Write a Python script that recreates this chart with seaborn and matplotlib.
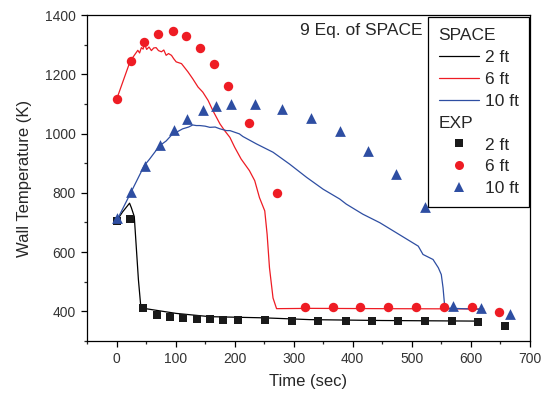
import numpy as np
import pandas as pd
import matplotlib
matplotlib.use('Agg')
import matplotlib.pyplot as plt
import seaborn as sns
from matplotlib.lines import Line2D
from matplotlib.ticker import MultipleLocator

# SPACE code results
space_2ft_t = [0, 10, 22, 25, 30, 37, 41, 46, 101, 158, 250, 327, 450, 613]
space_2ft_T = [705, 735, 765, 750, 720, 507, 417, 410, 393, 382, 378, 372, 369, 367]

space_6ft_t = [0, 23, 30, 36, 39, 42, 45, 47, 51, 55, 59, 63, 67, 71, 76, 80, 84, 88, 93, 97, 101,
               110, 121, 129, 138, 146, 155, 163, 175, 183, 192, 200, 211, 225, 234, 242, 251,
               255, 259, 265, 271, 330, 450, 622]
space_6ft_T = [1115, 1244, 1264, 1281, 1272, 1290, 1285, 1304, 1284, 1292, 1280, 1289, 1290, 1280,
               1276, 1282, 1264, 1270, 1264, 1252, 1242, 1236, 1208, 1185, 1157, 1140, 1112, 1078,
               1033, 1010, 987, 954, 914, 875, 841, 784, 739, 660, 547, 445, 409, 410, 409, 408]

space_10ft_t = [0, 24, 47, 56, 73, 84, 95, 101, 112, 122, 129, 135, 141, 150, 158, 167, 175, 186,
                192, 208, 214, 237, 265, 293, 322, 350, 378, 389, 417, 446, 474, 497, 511, 519,
                536, 545, 550, 553, 556, 585, 615]
space_10ft_T = [705, 800, 892, 914, 959, 975, 999, 1004, 1016, 1022, 1029, 1027, 1027, 1025, 1021,
                1022, 1016, 1010, 1010, 999, 990, 965, 937, 897, 852, 812, 779, 762, 728, 699,
                665, 637, 620, 592, 575, 547, 524, 479, 411, 409, 407]

# experimental data
exp_2ft_t = [0, 23, 45, 68, 91, 113, 136, 158, 181, 206, 251, 297, 341, 388, 432, 477, 522, 568, 613, 658]
exp_2ft_T = [705, 712, 410, 387, 380, 377, 375, 374, 372, 371, 370, 369, 369, 368, 367, 367, 366,
             366, 365, 350]

exp_6ft_t = [0, 24, 47, 71, 95, 118, 142, 165, 189, 224, 271, 319, 366, 412, 459, 507, 554, 602, 647]
exp_6ft_T = [1115, 1245, 1310, 1337, 1346, 1330, 1290, 1236, 1160, 1036, 801, 413, 413, 413, 413,
             413, 413, 413, 397]

exp_10ft_t = [0, 24, 49, 73, 97, 120, 146, 169, 193, 234, 281, 330, 378, 426, 474, 522, 570, 618, 666]
exp_10ft_T = [715, 803, 892, 962, 1013, 1050, 1078, 1092, 1099, 1099, 1082, 1052, 1008, 942, 864,
              752, 417, 411, 390]

sns.set_theme(style='ticks')
plt.rcParams['font.family'] = ['Liberation Sans', 'DejaVu Sans']

fig, ax = plt.subplots(figsize=(5.44, 3.96), dpi=100)
fig.subplots_adjust(left=0.16, right=0.974, bottom=0.139, top=0.962)

red = '#ee1c24'
blue = '#2e4ea2'

sns.lineplot(x=space_2ft_t, y=space_2ft_T, ax=ax, color='black', lw=0.9, sort=False, estimator=None)
sns.lineplot(x=space_6ft_t, y=space_6ft_T, ax=ax, color=red, lw=0.9, sort=False, estimator=None)
sns.lineplot(x=space_10ft_t, y=space_10ft_T, ax=ax, color=blue, lw=0.9, sort=False, estimator=None)

sns.scatterplot(x=exp_2ft_t, y=exp_2ft_T, ax=ax, marker='s', s=34, color='#1a1a1a', linewidth=0, zorder=3)
sns.scatterplot(x=exp_6ft_t, y=exp_6ft_T, ax=ax, marker='o', s=46, color=red, linewidth=0, zorder=3)
sns.scatterplot(x=exp_10ft_t, y=exp_10ft_T, ax=ax, marker='^', s=60, color=blue, linewidth=0, zorder=3)

ax.set_xlim(-50, 700)
ax.set_ylim(300, 1400)
ax.xaxis.set_major_locator(MultipleLocator(100))
ax.xaxis.set_minor_locator(MultipleLocator(50))
ax.yaxis.set_major_locator(MultipleLocator(200))
ax.yaxis.set_minor_locator(MultipleLocator(100))
ax.tick_params(which='major', direction='out', length=4.5, width=0.9, labelsize=10,
               colors='black', labelcolor='#333333')
ax.tick_params(which='minor', direction='out', length=2.5, width=0.9)
for sp in ax.spines.values():
    sp.set_visible(True)
    sp.set_linewidth(0.9)
    sp.set_color('black')

ax.set_xlabel('Time (sec)', fontsize=12, labelpad=6)
ax.set_ylabel('Wall Temperature (K)', fontsize=12, labelpad=9)

ax.text(0.48, 0.975, '9 Eq. of SPACE', transform=ax.transAxes, fontsize=12.5, va='top', ha='left')

blank = Line2D([], [], linestyle='none')
handles = [blank,
           Line2D([], [], color='black', lw=0.9),
           Line2D([], [], color=red, lw=0.9),
           Line2D([], [], color=blue, lw=0.9),
           blank,
           Line2D([], [], ls='none', marker='s', ms=5.5, color='#1a1a1a', mew=0),
           Line2D([], [], ls='none', marker='o', ms=6.5, color=red, mew=0),
           Line2D([], [], ls='none', marker='^', ms=7.5, color=blue, mew=0)]
labels = ['SPACE', '2 ft', '6 ft', '10 ft', 'EXP', '2 ft', '6 ft', '10 ft']
leg = ax.legend(handles, labels, loc='upper right', bbox_to_anchor=(0.998, 0.993), borderaxespad=0,
                fontsize=12.5, frameon=True, fancybox=False, edgecolor='black', framealpha=1,
                handlelength=2.3, handletextpad=0.35, labelspacing=0.39, borderpad=0.6)
leg.get_frame().set_linewidth(0.9)

# move headers flush left
for hp in leg._legend_handle_box.get_children()[0].get_children():
    area, txt = hp.get_children()
    if txt.get_text() in ('SPACE', 'EXP'):
        area.width = 0
        hp.sep = 0

fig.savefig('out.png', dpi=100)
